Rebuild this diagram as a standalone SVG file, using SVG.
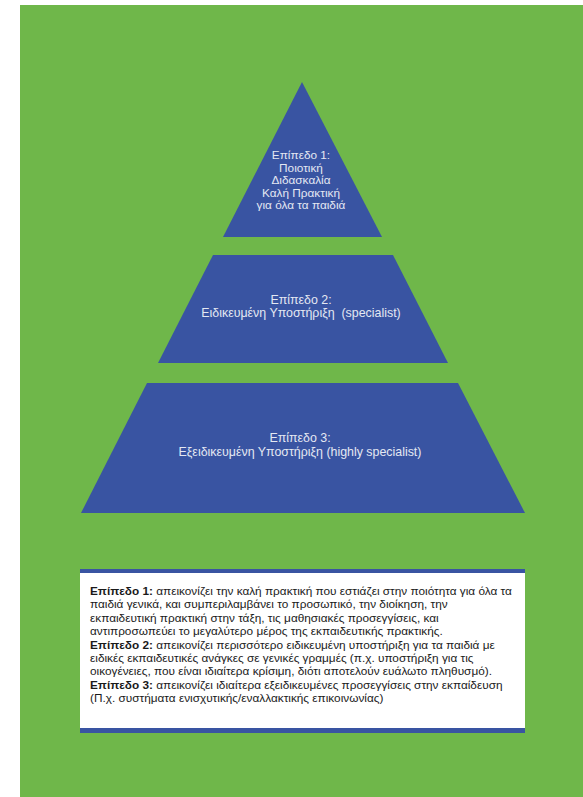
<svg xmlns="http://www.w3.org/2000/svg" width="583" height="797" viewBox="0 0 583 797">
<style>
.lvl{fill:#3954a2}
.pt{font-family:"Liberation Sans",Arial,sans-serif;font-size:12.4px;fill:#e4e8f2;text-anchor:middle}
.p1{font-size:11.8px}
.bt{font-family:"Liberation Sans",Arial,sans-serif;font-size:11.8px;fill:#1a1a1a}
.b{font-weight:bold}
</style>
<rect x="0" y="0" width="583" height="797" fill="#ffffff"/>
<rect x="20" y="5" width="563" height="792" fill="#6fb74a"/>
<g id="level1">
<polygon class="lvl" points="302,82 382,237 223,237"/>
<text class="pt p1" x="301" y="159">Επίπεδο 1:</text>
<text class="pt p1" x="301" y="171.6">Ποιοτική</text>
<text class="pt p1" x="301" y="184.2">Διδασκαλία</text>
<text class="pt p1" x="301" y="196.8">Καλή Πρακτική</text>
<text class="pt p1" x="301" y="209.4">για όλα τα παιδιά</text>
</g>
<g id="level2">
<polygon class="lvl" points="213,255 393,255 448,363 158,363"/>
<text class="pt" x="301" y="304">Επίπεδο 2:</text>
<text class="pt" x="301" y="317" xml:space="preserve">Ειδικευμένη Υποστήριξη  (specialist)</text>
</g>
<g id="level3">
<polygon class="lvl" points="147,383 458,383 525,513 81,513"/>
<text class="pt" x="300" y="442">Επίπεδο 3:</text>
<text class="pt" x="300" y="456">Εξειδικευμένη Υποστήριξη (highly specialist)</text>
</g>
<g id="legend">
<rect x="80" y="569" width="445" height="164" fill="#ffffff"/>
<rect x="80" y="569" width="445" height="4" class="lvl"/>
<rect x="80" y="728" width="445" height="5" class="lvl"/>
<text class="bt" x="90" y="595"><tspan class="b">Επίπεδο 1:</tspan> απεικονίζει την καλή πρακτική που εστιάζει στην ποιότητα για όλα τα</text>
<text class="bt" x="90" y="608.4">παιδιά γενικά, και συμπεριλαμβάνει το προσωπικό, την διοίκηση, την</text>
<text class="bt" x="90" y="621.8">εκπαιδευτική πρακτική στην τάξη, τις μαθησιακές προσεγγίσεις, και</text>
<text class="bt" x="90" y="635.2">αντιπροσωπεύει το μεγαλύτερο μέρος της εκπαιδευτικής πρακτικής.</text>
<text class="bt" x="90" y="648.6"><tspan class="b">Επίπεδο 2:</tspan> απεικονίζει περισσότερο ειδικευμένη υποστήριξη για τα παιδιά με</text>
<text class="bt" x="90" y="662">ειδικές εκπαιδευτικές ανάγκες σε γενικές γραμμές (π.χ. υποστήριξη για τις</text>
<text class="bt" x="90" y="675.4">οικογένειες, που είναι ιδιαίτερα κρίσιμη, διότι αποτελούν ευάλωτο πληθυσμό).</text>
<text class="bt" x="90" y="688.8"><tspan class="b">Επίπεδο 3:</tspan> απεικονίζει ιδιαίτερα εξειδικευμένες προσεγγίσεις στην εκπαίδευση</text>
<text class="bt" x="90" y="702.2">(Π.χ. συστήματα ενισχυτικής/εναλλακτικής επικοινωνίας)</text>
</g>
</svg>
